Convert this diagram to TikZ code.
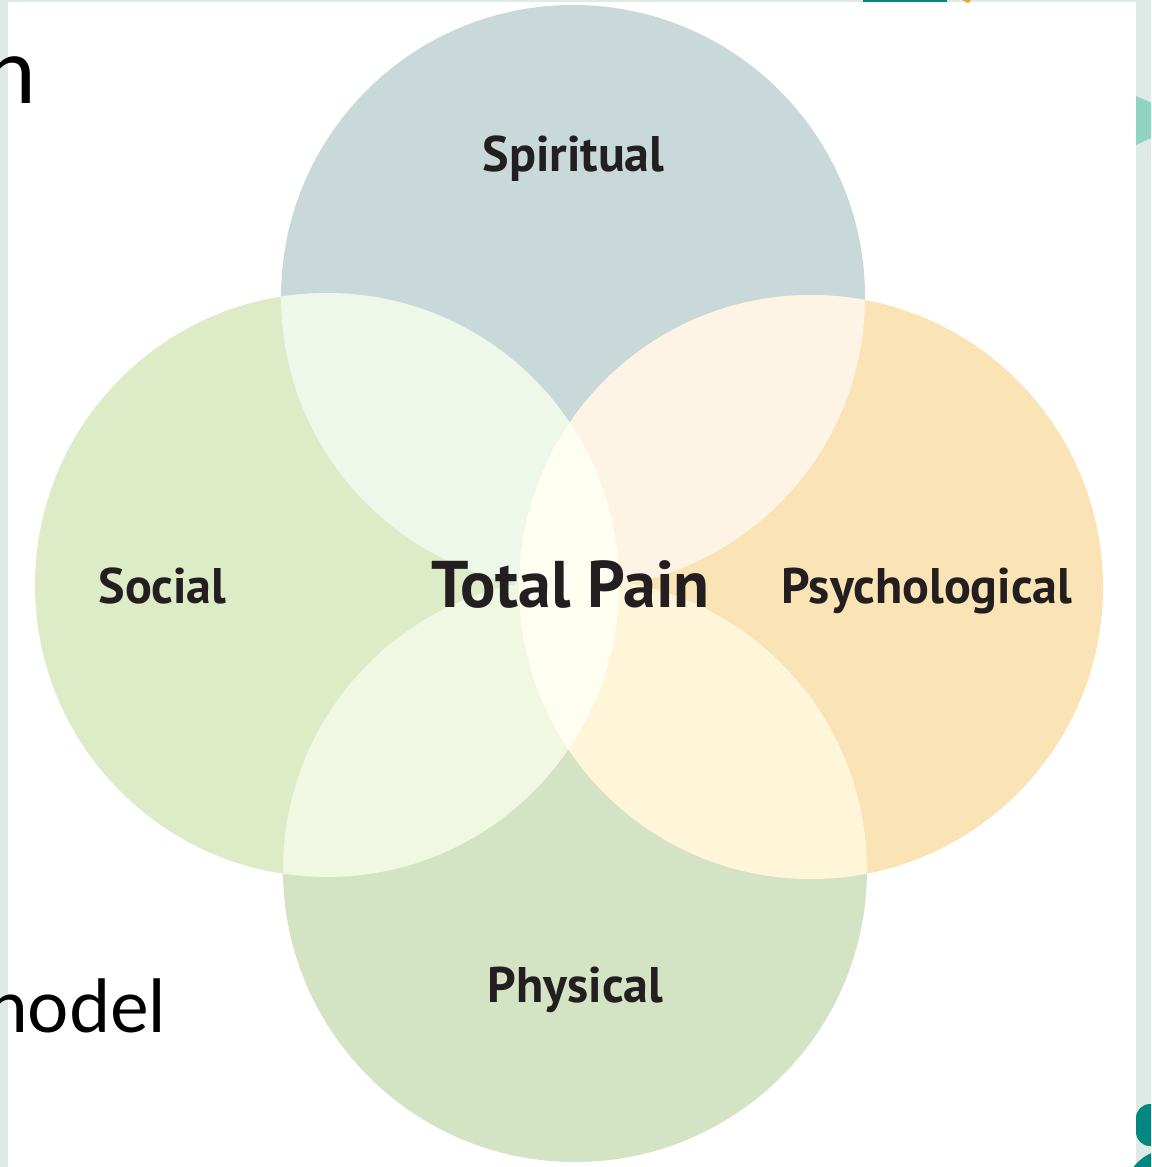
\documentclass[tikz,border=0pt]{standalone}
\usepackage{fontspec}
\setmainfont{PT Sans}
\newfontfamily\slidefont{Lato}
\definecolor{spir}{HTML}{C9D9D9}
\definecolor{soc}{HTML}{DEEBC7}
\definecolor{psy}{HTML}{FAE3B4}
\definecolor{phy}{HTML}{D3E3C4}
\definecolor{spsoc}{HTML}{EDF7EA}
\definecolor{sppsy}{HTML}{FEF4E6}
\definecolor{socphy}{HTML}{F0F8E2}
\definecolor{psyphy}{HTML}{FFF6DA}
\definecolor{midlens}{HTML}{FEFEF1}
\definecolor{labink}{HTML}{231F20}
\definecolor{bgstrip}{HTML}{DFEAE6}
\definecolor{tealdark}{HTML}{00877F}
\definecolor{teallight}{HTML}{8FD3C0}
\definecolor{orangebit}{HTML}{F0A030}
\begin{document}
\begin{tikzpicture}[x=1pt,y=-1pt,
  lab/.style={font=\bfseries\fontsize{50}{60}\selectfont, text=labink, inner sep=0pt, anchor=base},
  bigl/.style={font=\bfseries\fontsize{66}{78}\selectfont, text=labink, inner sep=0pt, anchor=base},
  slide/.style={font=\slidefont, text=black, inner sep=0pt, anchor=base east}]
\useasboundingbox (0,0) rectangle (1151,1167);
\clip (0,0) rectangle (1151,1167);
% slide background
\fill[bgstrip] (0,0) rectangle (1151,1167);
\fill[white] (8,2) rectangle (1136,1167);
\fill[tealdark] (863,-1) rectangle (947,2);
\fill[orangebit] (960,-1) -- (972,-1) -- (968,3) -- cycle;
\fill[teallight] (1136,96) -- (1190,120) -- (1136,145) -- cycle;
\fill[tealdark, rounded corners=14pt] (1136,1104) rectangle (1180,1146);
\fill[tealdark] (1170,1195) circle[radius=46pt];
% slide text fragments
\node[slide, font=\slidefont\fontsize{91}{100}\selectfont] (ttl) at (36,103) {n};
\node[slide, font=\slidefont\fontsize{73}{80}\selectfont] (mdl) at (166,1032) {nodel};
% circles
\coordinate (cS) at (573,297);
\coordinate (cL) at (327,585);
\coordinate (cR) at (811,587);
\coordinate (cB) at (575,870);
\def\R{292pt}
\fill[spir] (cS) circle[radius=\R];
\fill[soc] (cL) circle[radius=\R];
\fill[psy] (cR) circle[radius=\R];
\fill[phy] (cB) circle[radius=\R];
\begin{scope}
  \clip (cS) circle[radius=\R];
  \fill[spsoc] (cL) circle[radius=\R];
  \fill[sppsy] (cR) circle[radius=\R];
\end{scope}
\begin{scope}
  \clip (cB) circle[radius=\R];
  \fill[socphy] (cL) circle[radius=\R];
  \fill[psyphy] (cR) circle[radius=\R];
\end{scope}
\begin{scope}
  \clip (cL) circle[radius=\R];
  \fill[midlens] (cR) circle[radius=\R];
\end{scope}
% labels
\node[lab] (spiritual) at (573.5,171) {Spiritual};
\node[lab] (social) at (162.5,603) {Social};
\node[lab] (psychological) at (927,603) {Psychological};
\node[lab] (physical) at (575.5,1002) {Physical};
\node[bigl] (total) at (570.5,607) {Total Pain};
\end{tikzpicture}
\end{document}
